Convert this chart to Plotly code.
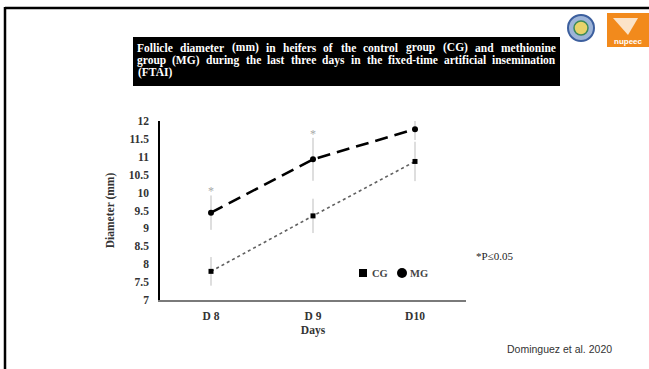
import plotly.graph_objects as go

# ---- data ----
days = ["D 8", "D 9", "D10"]
cg_mean = [7.80, 9.35, 10.87]
cg_err = [0.40, 0.48, 0.55]
mg_mean = [9.44, 10.93, 11.77]
mg_err = [0.48, 0.60, 0.30]
sig_days = ["D 8", "D 9"]
sig_y = [10.03, 11.60]
y_ticks = [7, 7.5, 8, 8.5, 9, 9.5, 10, 10.5, 11, 11.5, 12]

title_lines = [
    "Follicle diameter (mm) in heifers of the control group (CG) and methionine",
    "group (MG) during the last three days in the fixed-time artificial insemination",
    "(FTAI)",
]

W, H = 649, 369
L, R, T, B = 160, 466, 121, 300

def px(x):
    return (x - L) / (R - L)

def py(y):
    return (B - y) / (B - T)

SERIF = "Liberation Serif"

# approximate Times-Bold advance widths (1/1000 em) for justification
TB = {' ': 250, '(': 333, ')': 333, '-': 333, 'a': 500, 'b': 556, 'c': 444, 'd': 556, 'e': 444,
      'f': 333, 'g': 500, 'h': 556, 'i': 278, 'j': 333, 'k': 556, 'l': 278, 'm': 833, 'n': 556,
      'o': 500, 'p': 556, 'q': 556, 'r': 444, 's': 389, 't': 333, 'u': 556, 'v': 500, 'w': 722,
      'x': 500, 'y': 500, 'z': 444, 'A': 722, 'C': 722, 'F': 611, 'G': 778, 'I': 389, 'M': 944,
      'T': 667}

def word_w(word, size):
    return sum(TB.get(c, 520) for c in word) / 1000 * size

fig = go.Figure()

fig.add_trace(go.Scatter(
    x=days, y=cg_mean, mode="lines+markers", name="CG", showlegend=False,
    line=dict(color="#606060", width=1.6, dash="dot"),
    marker=dict(symbol="square", size=5, color="black"),
    error_y=dict(type="data", array=cg_err, color="#bdbdbd", thickness=1, width=0),
))
fig.add_trace(go.Scatter(
    x=days, y=mg_mean, mode="lines+markers", name="MG", showlegend=False,
    line=dict(color="black", width=2.6, dash="13px,7px"),
    marker=dict(symbol="circle", size=6, color="black"),
    error_y=dict(type="data", array=mg_err, color="#bdbdbd", thickness=1, width=0),
))
fig.add_trace(go.Scatter(
    x=sig_days, y=sig_y, mode="text", text=["*"] * len(sig_days), showlegend=False,
    textfont=dict(family=SERIF, size=12, color="#a8a8a8"),
))

shapes = [
    # slide border
    dict(type="line", xref="paper", yref="paper", x0=px(5), x1=px(652), y0=py(8), y1=py(8),
         line=dict(color="black", width=2.5)),
    dict(type="line", xref="paper", yref="paper", x0=px(5), x1=px(5), y0=py(7), y1=py(372),
         line=dict(color="black", width=2.5)),
    # title box
    dict(type="rect", xref="paper", yref="paper", x0=px(133), x1=px(560), y0=py(37), y1=py(86),
         fillcolor="black", line=dict(width=0)),
    # logos
    dict(type="circle", xref="paper", yref="paper", x0=px(568), x1=px(594), y0=py(15), y1=py(41),
         fillcolor="#9db4d8", line=dict(color="#3c5f9e", width=2)),
    dict(type="circle", xref="paper", yref="paper", x0=px(574), x1=px(588), y0=py(21), y1=py(35),
         fillcolor="#e8d36a", line=dict(color="#3c8a5a", width=1.5)),
    dict(type="rect", xref="paper", yref="paper", x0=px(607), x1=px(650), y0=py(13), y1=py(47),
         fillcolor="#f28a1c", line=dict(width=0)),
    dict(type="path", xref="paper", yref="paper",
         path=f"M {px(613)},{py(18)} L {px(638)},{py(18)} L {px(628)},{py(35)} Z",
         fillcolor="#fbe3c8", line=dict(width=0)),
    # legend symbols
    dict(type="rect", xref="paper", yref="paper", x0=px(359), x1=px(367), y0=py(269), y1=py(277),
         fillcolor="black", line=dict(width=0)),
    dict(type="circle", xref="paper", yref="paper", x0=px(397), x1=px(407), y0=py(268), y1=py(278),
         fillcolor="black", line=dict(width=0)),
]

annotations = []
TFS = 11.5
left, right = 137, 556
for i, line in enumerate(title_lines):
    yy = py(48 + 12 * i)
    words = line.split(" ")
    widths = [word_w(w, TFS) for w in words]
    if i < len(title_lines) - 1 and len(words) > 1:
        gap = max((right - left - sum(widths)) / (len(words) - 1), word_w(" ", TFS))
    else:
        gap = word_w(" ", TFS)
    xcur = left
    for w, ww in zip(words, widths):
        annotations.append(dict(
            xref="paper", yref="paper", x=px(xcur + ww / 2), y=yy, xanchor="center",
            yanchor="middle", text=w, showarrow=False,
            font=dict(family=SERIF, size=TFS, color="white", weight="bold"),
        ))
        xcur += ww + gap

annotations += [
    dict(xref="paper", yref="paper", x=px(628), y=py(41), text="nupeec", showarrow=False,
         font=dict(family="Liberation Sans", size=8, color="white", weight="bold"),
         xanchor="center", yanchor="middle"),
    dict(xref="paper", yref="paper", x=px(370), y=py(273), text="CG", showarrow=False,
         xanchor="left", yanchor="middle",
         font=dict(family=SERIF, size=10.5, color="#444444", weight="bold")),
    dict(xref="paper", yref="paper", x=px(408), y=py(273), text="MG", showarrow=False,
         xanchor="left", yanchor="middle",
         font=dict(family=SERIF, size=10.5, color="#444444", weight="bold")),
    dict(xref="paper", yref="paper", x=px(474), y=py(256), text="*P≤0.05", showarrow=False,
         xanchor="left", yanchor="middle", font=dict(family=SERIF, size=11, color="#222222")),
    dict(xref="paper", yref="paper", x=px(559), y=py(349), text="Dominguez et al. 2020",
         showarrow=False, xanchor="center", yanchor="middle",
         font=dict(family="Liberation Sans", size=10.5, color="#333333")),
]

fig.update_layout(
    width=W, height=H,
    margin=dict(l=L, r=W - R, t=T, b=H - B),
    paper_bgcolor="white", plot_bgcolor="white",
    showlegend=False,
    shapes=shapes, annotations=annotations,
    xaxis=dict(
        type="category", range=[-0.5, 2.5], showgrid=False, zeroline=False,
        showline=True, linecolor="#7a7a7a", linewidth=2, ticks="",
        tickfont=dict(family=SERIF, size=11.5, color="#333333", weight="bold"),
        title=dict(text="Days", font=dict(family=SERIF, size=11.5, color="#333333", weight="bold"),
                   standoff=5),
        ticklabelstandoff=4,
    ),
    yaxis=dict(
        range=[7, 12], tickvals=y_ticks, ticktext=[f"{v:g}" for v in y_ticks],
        showgrid=False, zeroline=False, showline=True, linecolor="black", linewidth=1.5,
        ticks="", ticklabelstandoff=7,
        tickfont=dict(family=SERIF, size=11.5, color="#333333", weight="bold"),
        title=dict(text="Diameter (mm)", font=dict(family=SERIF, size=11.5, color="#333333", weight="bold"),
                   standoff=12),
    ),
)

fig.write_html("out.html", config={"displayModeBar": False},
               post_script="document.body.style.margin='0';document.body.style.overflow='hidden';")
